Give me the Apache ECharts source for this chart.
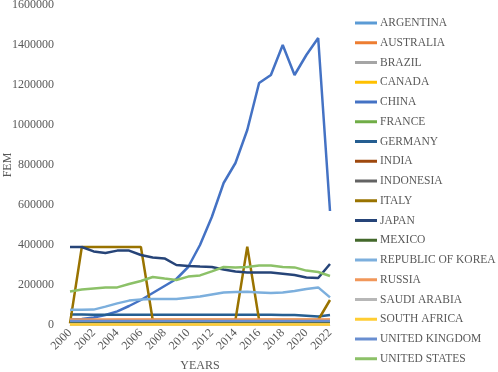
<!DOCTYPE html>
<html>
<head>
<meta charset="utf-8">
<script src="https://cdn.jsdelivr.net/npm/echarts@6/dist/echarts.min.js"></script>
<style>
  html, body { margin: 0; padding: 0; background: #fff; }
  #chart { width: 498px; height: 372px; }
</style>
</head>
<body>
<div id="chart"></div>
<script>
const years = ['2000','2001','2002','2003','2004','2005','2006','2007','2008','2009','2010','2011',
  '2012','2013','2014','2015','2016','2017','2018','2019','2020','2021','2022'];

const argentina = [18000,18000,18000,18000,18000,18000,18000,18000,18000,17000,17000,17000,17000,17000,17000,17000,17000,16000,16000,16000,16000,16000,16000];
const australia = [24000,24000,24000,24000,25000,25000,25000,25000,25000,25000,25000,25000,25000,25000,25000,25000,25000,25000,25000,25000,25000,25000,26000];
const brazil = [10000,10000,10000,10000,10000,10000,10000,10000,10000,10000,10000,10000,10000,10000,10000,10000,10000,10000,10000,10000,10000,10000,10000];
const canada = [5000,5000,5000,5000,5000,5000,5000,5000,5000,5000,5000,5000,5000,5000,5000,5000,5000,5000,5000,5000,5000,5000,5000];
const china = [28000,30000,38000,50000,68000,95000,125000,160000,195000,230000,290000,400000,540000,710000,810000,975000,1210000,1250000,1400000,1250000,1350000,1435000,570000];
const france = [12000,12000,12000,12000,12000,12000,12000,12000,12000,12000,12000,12000,12000,12000,12000,12000,12000,12000,12000,12000,12000,12000,12000];
const germany = [52000,52000,51000,51000,51000,51000,51000,51000,51000,51000,51000,51000,51000,51000,51000,51000,51000,51000,50000,50000,46000,42000,50000];
const india = [8000,8000,8000,8000,8000,8000,8000,8000,8000,8000,8000,8000,8000,8000,8000,8000,8000,8000,8000,8000,8000,8000,8000];
const indonesia = [6000,6000,6000,6000,6000,6000,6000,6000,6000,6000,6000,6000,6000,6000,6000,6000,6000,6000,6000,6000,6000,6000,6000];
const italy = [8000,390000,390000,390000,390000,390000,390000,25000,25000,25000,25000,25000,25000,25000,25000,392000,25000,25000,25000,25000,25000,25000,125000];
const japan = [390000,390000,368000,360000,372000,372000,350000,338000,333000,300000,295000,292000,290000,278000,268000,263000,262000,262000,256000,250000,238000,235000,305000];
const mexico = [7000,7000,7000,7000,7000,7000,7000,7000,7000,7000,7000,7000,7000,7000,7000,7000,7000,7000,7000,7000,7000,7000,7000];
const korea = [76000,76000,77000,92000,108000,122000,127000,130000,130000,130000,136000,142000,152000,162000,165000,166000,163000,160000,163000,170000,180000,188000,138000];
const russia = [28000,28000,28000,28000,28000,28000,28000,28000,28000,28000,28000,28000,28000,28000,28000,28000,28000,28000,28000,28000,28000,28000,28000];
const saudi = [4000,4000,4000,4000,4000,4000,4000,4000,4000,4000,4000,4000,4000,4000,4000,4000,4000,4000,4000,4000,4000,4000,4000];
const southAfrica = [3000,3000,3000,3000,3000,3000,3000,3000,3000,3000,3000,3000,3000,3000,3000,3000,3000,3000,3000,3000,3000,3000,3000];
const uk = [20000,20000,20000,20000,20000,20000,20000,20000,20000,20000,20000,20000,20000,20000,20000,20000,20000,20000,20000,20000,20000,20000,20000];
const usa = [168000,178000,183000,188000,188000,205000,220000,240000,232000,225000,242000,248000,268000,290000,287000,290000,297000,297000,290000,288000,272000,265000,245000];

const names = ['ARGENTINA','AUSTRALIA','BRAZIL','CANADA','CHINA','FRANCE','GERMANY','INDIA','INDONESIA',
  'ITALY','JAPAN','MEXICO','REPUBLIC OF KOREA','RUSSIA','SAUDI ARABIA','SOUTH AFRICA','UNITED KINGDOM','UNITED STATES'];
const values = [argentina, australia, brazil, canada, china, france, germany, india, indonesia,
  italy, japan, mexico, korea, russia, saudi, southAfrica, uk, usa];
const colors = ['#5B9BD5','#ED7D31','#A5A5A5','#FFC000','#4472C4','#70AD47','#255E91','#9E480E','#636363',
  '#997300','#264478','#43682B','#7CAFDD','#F1975A','#B7B7B7','#FFCD33','#698ED0','#8CC168'];

const series = names.map((name, i) => ({
  name: name,
  type: 'line',
  data: values[i],
  symbol: 'none',
  lineStyle: { width: 2.5, color: colors[i] },
  itemStyle: { color: colors[i] }
}));

const chart = echarts.init(document.getElementById('chart'));
const font = 'Liberation Serif';
chart.setOption({
  animation: false,
  color: colors,
  grid: { left: 70, right: 168, top: 5, bottom: 47, outerBoundsMode: 'none' },
  legend: {
    orient: 'vertical',
    left: 355,
    top: 16,
    padding: 0,
    icon: 'rect',
    itemWidth: 22,
    itemHeight: 3,
    itemGap: 5.75,
    textStyle: { fontFamily: font, fontSize: 11.5, color: '#595959', lineHeight: 14, padding: [0, 0, 0, -2] },
    data: names
  },
  xAxis: {
    type: 'category',
    data: years,
    boundaryGap: false,
    name: 'YEARS',
    nameLocation: 'middle',
    nameGap: 35,
    nameMoveOverlap: false,
    nameTextStyle: { fontFamily: font, fontSize: 12, color: '#595959' },
    axisLine: { show: true, lineStyle: { color: '#D9D9D9' } },
    axisTick: { show: false },
    axisLabel: { interval: 1, rotate: 45, fontFamily: font, fontSize: 12, color: '#595959', margin: 6 }
  },
  yAxis: {
    type: 'value',
    min: 0,
    max: 1600000,
    interval: 200000,
    name: 'FEM',
    nameLocation: 'middle',
    nameGap: 56,
    nameMoveOverlap: false,
    nameTextStyle: { fontFamily: font, fontSize: 12, color: '#595959' },
    axisLine: { show: false },
    axisTick: { show: false },
    splitLine: { show: false },
    axisLabel: { fontFamily: font, fontSize: 12, color: '#595959', margin: 16, formatter: (v) => String(v) }
  },
  series: series
});
</script>
</body>
</html>
